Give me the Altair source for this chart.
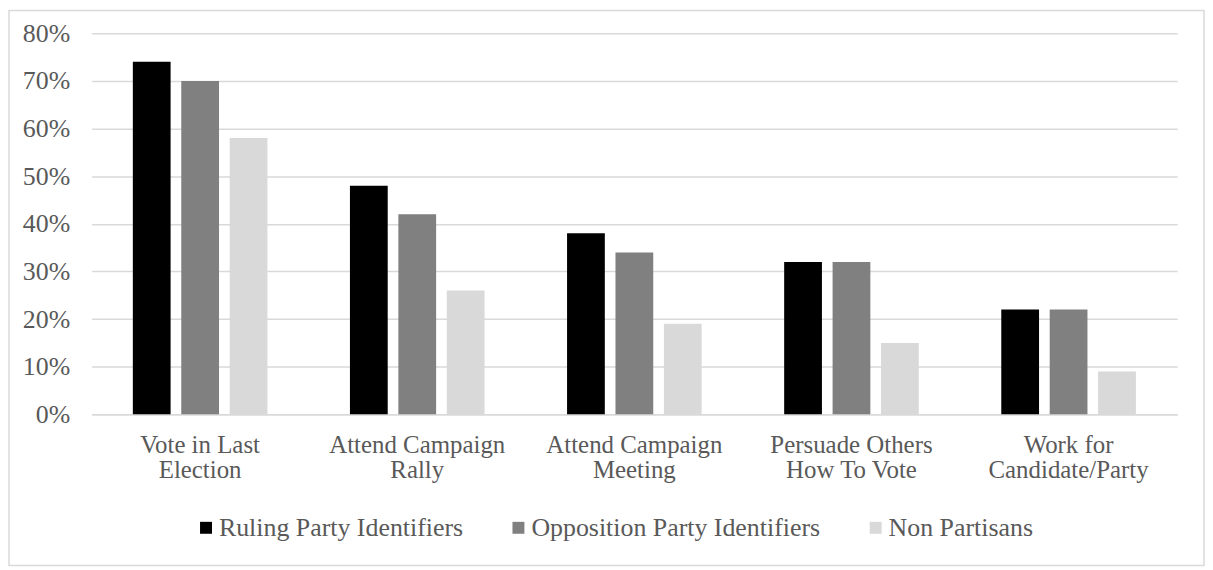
import altair as alt
import pandas as pd

categories = [
    "Vote in Last\nElection",
    "Attend Campaign\nRally",
    "Attend Campaign\nMeeting",
    "Persuade Others\nHow To Vote",
    "Work for\nCandidate/Party",
]
series = ["Ruling Party Identifiers", "Opposition Party Identifiers", "Non Partisans"]
ruling = [0.74, 0.48, 0.38, 0.32, 0.22]
opposition = [0.70, 0.42, 0.34, 0.32, 0.22]
non_partisans = [0.58, 0.26, 0.19, 0.15, 0.09]
colors = ["#000000", "#808080", "#d9d9d9"]

rows = []
for vals, s in zip([ruling, opposition, non_partisans], series):
    for c, v in zip(categories, vals):
        rows.append({"category": c, "series": s, "value": v})
df = pd.DataFrame(rows)

FONT = "'Liberation Serif', 'Times New Roman', 'DejaVu Serif', serif"
TXT = "#595959"

bars = alt.Chart(df).mark_bar().encode(
    x=alt.X(
        "category:N",
        sort=categories,
        scale=alt.Scale(paddingInner=0.38, paddingOuter=0.19),
        axis=alt.Axis(
            title=None,
            labelExpr="split(datum.value, '\\n')",
            labelAngle=0,
            labelFont=FONT,
            labelFontSize=25,
            labelColor=TXT,
            labelLineHeight=25,
            labelPadding=18,
            labelBaseline="top",
            labelLimit=0,
            ticks=False,
            domainColor="#d9d9d9",
            domainWidth=1.5,
            grid=False,
        ),
    ),
    xOffset=alt.XOffset(
        "series:N", sort=series, scale=alt.Scale(paddingInner=0.22, paddingOuter=0)
    ),
    y=alt.Y(
        "value:Q",
        scale=alt.Scale(domain=[0, 0.8], nice=False),
        axis=alt.Axis(
            title=None,
            format=".0%",
            values=[0, 0.1, 0.2, 0.3, 0.4, 0.5, 0.6, 0.7, 0.8],
            labelFont=FONT,
            labelFontSize=26,
            labelColor=TXT,
            labelPadding=22,
            ticks=False,
            domain=False,
            gridColor="#d9d9d9",
            gridWidth=1.5,
        ),
    ),
    color=alt.Color(
        "series:N",
        sort=series,
        scale=alt.Scale(domain=series, range=colors),
        legend=alt.Legend(
            title=None,
            orient="none",
            direction="horizontal",
            legendX=102,
            legendY=484,
            symbolType="square",
            symbolSize=144,
            symbolStrokeWidth=0,
            labelFont=FONT,
            labelFontSize=26,
            labelColor=TXT,
            labelOffset=0,
            labelLimit=0,
            columnPadding=42,
        ),
    ),
)

frame = alt.Chart(pd.DataFrame({"a": [0]})).mark_rect(
    filled=False, stroke="#d9d9d9", strokeWidth=1.5, clip=False
).encode(
    x=alt.value(-83),
    x2=alt.value(1118),
    y=alt.value(-23),
    y2=alt.value(535),
)

chart = (
    alt.layer(bars, frame)
    .properties(
        width=1091,
        height=383,
        autosize=alt.AutoSizeParams(type="none"),
        padding={"left": 84, "top": 24, "right": 28, "bottom": 154},
        background="white",
    )
    .configure_view(stroke=None)
)

chart.save("out.html", embed_options={"renderer": "svg", "actions": False})
